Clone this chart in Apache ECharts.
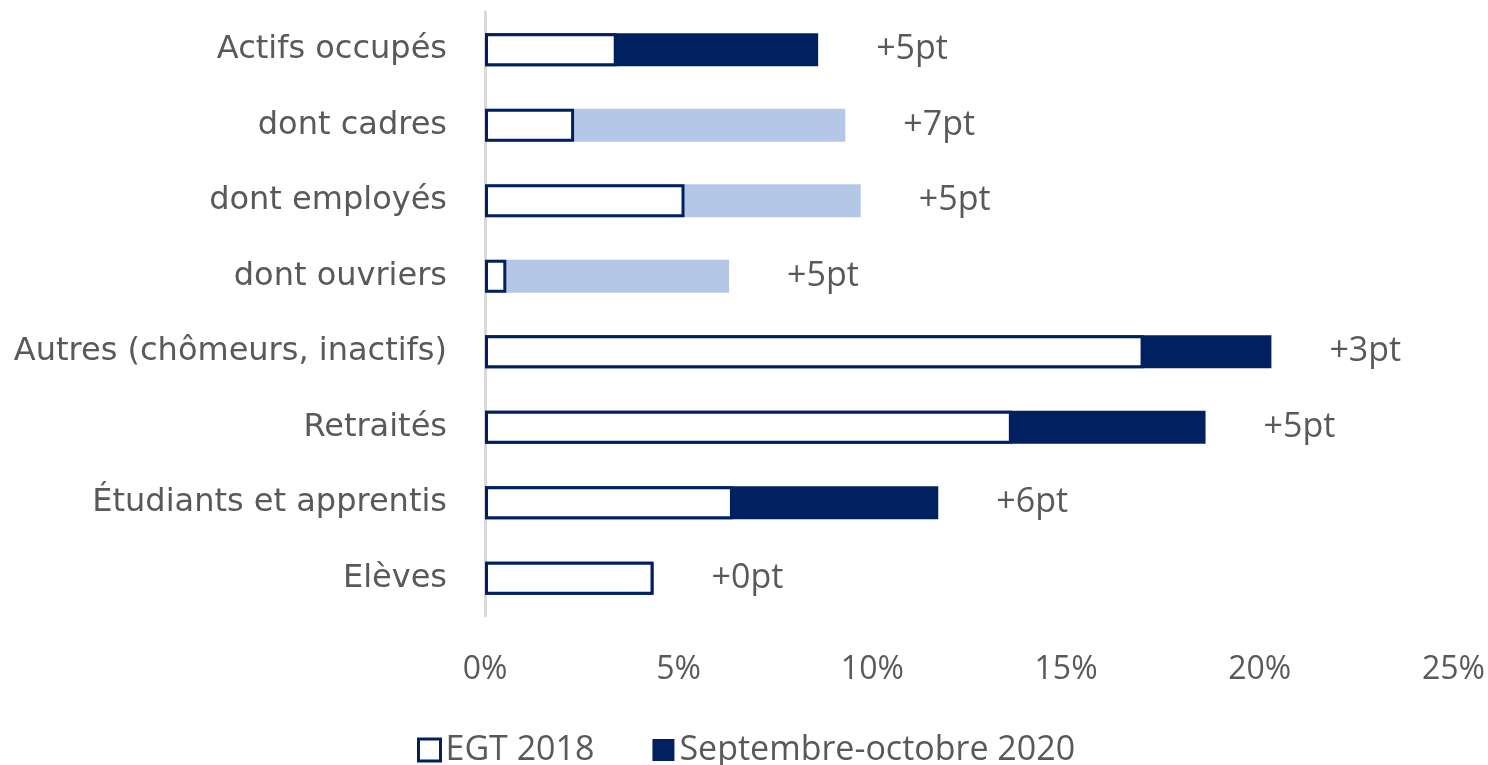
<!DOCTYPE html>
<html>
<head>
<meta charset="utf-8">
<script src="https://cdn.jsdelivr.net/npm/echarts@6/dist/echarts.min.js"></script>
<style>
html, body { margin: 0; padding: 0; background: #fff; }
#chart { width: 1488px; height: 765px; }
</style>
</head>
<body>
<div id="chart"></div>
<script>
// catégories (de haut en bas)
var categories = ['Actifs occupés', 'dont cadres', 'dont employés', 'dont ouvriers',
  'Autres (chômeurs, inactifs)', 'Retraités', 'Étudiants et apprentis', 'Elèves']
// part en % - EGT 2018
var egt2018 = [3.4, 2.3, 5.15, 0.55, 17.0, 13.6, 6.4, 4.35]
// part en % - septembre-octobre 2020
var sept2020 = [8.6, 9.3, 9.7, 6.3, 20.3, 18.6, 11.7, 4.35]
// écarts affichés
var ecarts = ['+5pt', '+7pt', '+5pt', '+5pt', '+3pt', '+5pt', '+6pt', '+0pt']
var xTicks = [0, 5, 10, 15, 20, 25]

var navy = '#002060'
var lightBlue = '#B4C7E7'
var grey = '#595959'

var myChart = echarts.init(document.getElementById('chart'))
myChart.setOption({
  backgroundColor: '#fff',
  animation: false,
  textStyle: { fontFamily: 'Open Sans' },
  grid: { left: 485, right: 28, top: 12, bottom: 149, containLabel: false },
  legend: {
    top: 728,
    left: 412,
    icon: 'rect',
    itemWidth: 22,
    itemHeight: 22,
    itemGap: 58,
    textStyle: { fontSize: 34, color: grey, fontFamily: 'Open Sans' },
    data: [
      { name: 'EGT 2018', itemStyle: { color: '#fff', borderColor: navy, borderWidth: 3 } },
      { name: 'Septembre-octobre 2020', itemStyle: { color: navy } }
    ]
  },
  xAxis: {
    type: 'value',
    min: xTicks[0],
    max: xTicks[xTicks.length - 1],
    interval: 5,
    axisLine: { show: false },
    axisTick: { show: false },
    splitLine: { show: false },
    axisLabel: {
      margin: 38,
      fontSize: 32,
      color: grey,
      fontFamily: 'Open Sans',
      formatter: '{value}%'
    }
  },
  yAxis: {
    type: 'category',
    inverse: true,
    data: categories,
    axisLine: { show: true, lineStyle: { color: '#D9D9D9', width: 3 } },
    axisTick: { show: false },
    axisLabel: { margin: 38, fontSize: 32, color: grey, fontFamily: 'DejaVu Sans' }
  },
  series: [
    {
      name: 'Septembre-octobre 2020',
      type: 'bar',
      barWidth: 33,
      barGap: '-100%',
      z: 2,
      data: sept2020,
      itemStyle: {
        color: function (p) {
          return categories[p.dataIndex].indexOf('dont') === 0 ? lightBlue : navy
        }
      },
      label: {
        show: true,
        position: 'right',
        distance: 58,
        fontSize: 34,
        color: grey,
        fontFamily: 'Open Sans',
        formatter: function (p) { return ecarts[p.dataIndex] }
      }
    },
    {
      name: 'EGT 2018',
      type: 'bar',
      barWidth: 33,
      barGap: '-100%',
      z: 3,
      data: egt2018,
      itemStyle: { color: '#fff', borderColor: navy, borderWidth: 3 }
    }
  ]
})
</script>
</body>
</html>
